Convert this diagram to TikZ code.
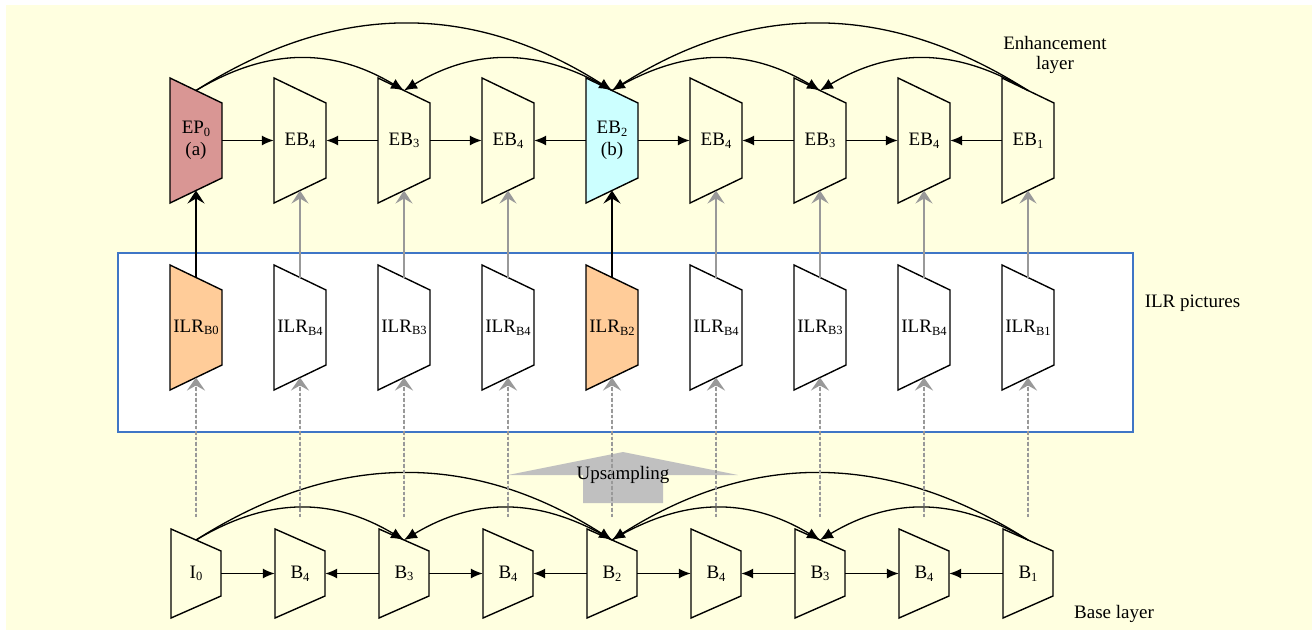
\documentclass[tikz,border=0pt]{standalone}
\usepackage{fontspec}
\setmainfont{Liberation Serif}
\usetikzlibrary{arrows.meta}
\definecolor{bgyel}{HTML}{FFFFE0}
\definecolor{epred}{HTML}{D99694}
\definecolor{ebcyan}{HTML}{CCFFFF}
\definecolor{ilrpeach}{HTML}{FFCC99}
\definecolor{boxblue}{HTML}{3F76C6}
\definecolor{arrgray}{HTML}{999999}
\definecolor{upgray}{HTML}{C0C0C0}
\newcommand\lblfont{\fontsize{19}{22.5}\selectfont}
\newcommand\sbs[1]{\raisebox{-0.14em}{\fontsize{12.5}{12.5}\selectfont #1}}
\newcommand\trap[8]{%
  \path[shp,fill=#7] (#2-#4/2,#3-#5/2) -- (#2+#4/2,#3-#5/2+#6) -- (#2+#4/2,#3+#5/2-#6) -- (#2-#4/2,#3+#5/2) -- cycle;
  \node[lbl,minimum width=#4pt,minimum height=#5pt] (#1) at (#2,#3) {#8};
  \coordinate (#1-t) at (#2,#3-#5/2+#6/2);
  \coordinate (#1-b) at (#2,#3+#5/2-#6/2);
}
\tikzset{
  shp/.style={draw=black, line width=1.4pt, line join=miter},
  lbl/.style={inner sep=0pt, align=center, font=\lblfont, text=black},
  harr/.style={line width=1.3pt, -{Latex[length=12pt,width=10pt]}},
  arcarr/.style={line width=1.3pt, -{Latex[length=13pt,width=11pt]}},
  varr/.style={line width=1.4pt, -{Stealth[length=13pt,width=17pt,inset=5pt]}},
  garr/.style={varr, draw=arrgray, fill=arrgray},
  darr/.style={line width=1.9pt, draw=arrgray, fill=arrgray, dash pattern=on 3.2pt off 2.3pt, -{Stealth[length=13pt,width=18pt,inset=5pt]}},
  ilrbox/.style={draw=boxblue, line width=1.5pt, fill=white},
  upsh/.style={fill=upgray, draw=none},
}
\begin{document}
\begin{tikzpicture}[x=1pt,y=-1pt]
\useasboundingbox (0,0) rectangle (1312,630);
\fill[bgyel] (6,5) rectangle (1312,630);
% ILR box
\path[ilrbox] (118,253) rectangle (1133,432);
% upsampling arrow
\path[upsh] (508,475) -- (623,452) -- (738,475) -- (663,475) -- (663,503) -- (583,503) -- (583,475) -- cycle;
\node[lbl, anchor=base] (ups) at (623,479) {Upsampling};
% enhancement row
\trap{t0}{196}{140.5}{52}{125}{25}{epred}{EP\sbs{0}\\[-1pt](a)}
\trap{t1}{300}{140.5}{52}{125}{25}{none}{EB\sbs{4}}
\trap{t2}{404}{140.5}{52}{125}{25}{none}{EB\sbs{3}}
\trap{t3}{508}{140.5}{52}{125}{25}{none}{EB\sbs{4}}
\trap{t4}{612}{140.5}{52}{125}{25}{ebcyan}{EB\sbs{2}\\[-1pt](b)}
\trap{t5}{716}{140.5}{52}{125}{25}{none}{EB\sbs{4}}
\trap{t6}{820}{140.5}{52}{125}{25}{none}{EB\sbs{3}}
\trap{t7}{924}{140.5}{52}{125}{25}{none}{EB\sbs{4}}
\trap{t8}{1028}{140.5}{52}{125}{25}{none}{EB\sbs{1}}
% ILR row
\trap{m0}{196}{327.5}{52}{125}{25}{ilrpeach}{ILR\sbs{B0}}
\trap{m1}{300}{327.5}{52}{125}{25}{white}{ILR\sbs{B4}}
\trap{m2}{404}{327.5}{52}{125}{25}{white}{ILR\sbs{B3}}
\trap{m3}{508}{327.5}{52}{125}{25}{white}{ILR\sbs{B4}}
\trap{m4}{612}{327.5}{52}{125}{25}{ilrpeach}{ILR\sbs{B2}}
\trap{m5}{716}{327.5}{52}{125}{25}{white}{ILR\sbs{B4}}
\trap{m6}{820}{327.5}{52}{125}{25}{white}{ILR\sbs{B3}}
\trap{m7}{924}{327.5}{52}{125}{25}{white}{ILR\sbs{B4}}
\trap{m8}{1028}{327.5}{52}{125}{25}{white}{ILR\sbs{B1}}
% base row
\trap{b0}{196}{573.5}{50}{89}{22}{none}{I\sbs{0}}
\trap{b1}{300}{573.5}{50}{89}{22}{none}{B\sbs{4}}
\trap{b2}{404}{573.5}{50}{89}{22}{none}{B\sbs{3}}
\trap{b3}{508}{573.5}{50}{89}{22}{none}{B\sbs{4}}
\trap{b4}{612}{573.5}{50}{89}{22}{none}{B\sbs{2}}
\trap{b5}{716}{573.5}{50}{89}{22}{none}{B\sbs{4}}
\trap{b6}{820}{573.5}{50}{89}{22}{none}{B\sbs{3}}
\trap{b7}{924}{573.5}{50}{89}{22}{none}{B\sbs{4}}
\trap{b8}{1028}{573.5}{50}{89}{22}{none}{B\sbs{1}}
% side labels
\node[lbl, anchor=base] (enh) at (1055,49) {Enhancement};
\node[lbl, anchor=base] (enh2) at (1055,69) {layer};
\node[lbl, anchor=base] (ilrp) at (1192.5,307) {ILR pictures};
\node[lbl, anchor=base] (basel) at (1114,618) {Base layer};
% horizontal arrows
\foreach \r in {t,b}{
  \draw[harr] (\r0.east) -- (\r1.west);
  \draw[harr] (\r2.west) -- (\r1.east);
  \draw[harr] (\r2.east) -- (\r3.west);
  \draw[harr] (\r4.west) -- (\r3.east);
  \draw[harr] (\r4.east) -- (\r5.west);
  \draw[harr] (\r6.west) -- (\r5.east);
  \draw[harr] (\r6.east) -- (\r7.west);
  \draw[harr] (\r8.west) -- (\r7.east);
}
% arcs
\foreach \r in {t,b}{
  \draw[arcarr] (\r0-t) .. controls +(72,-43) and +(-72,-43) .. (\r2-t);
  \draw[arcarr] (\r0-t) .. controls +(140,-89) and +(-140,-89) .. (\r4-t);
  \draw[arcarr] (\r4-t) .. controls +(-72,-43) and +(72,-43) .. (\r2-t);
  \draw[arcarr] (\r4-t) .. controls +(72,-43) and +(-72,-43) .. (\r6-t);
  \draw[arcarr] (\r8-t) .. controls +(-72,-43) and +(72,-43) .. (\r6-t);
  \draw[arcarr] (\r8-t) .. controls +(-140,-89) and +(140,-89) .. (\r4-t);
}
% ILR -> enhancement
\draw[varr] (m0-t) -- (t0-b);
\draw[varr] (m4-t) -- (t4-b);
\foreach \i in {1,2,3,5,6,7,8}{
  \draw[garr] (m\i-t) -- (t\i-b);
}
% base -> ILR (dashed)
\foreach \i in {0,...,8}{
  \coordinate (d\i) at (196+104*\i,517);
  \draw[darr] (d\i) -- (m\i-b);
}
\end{tikzpicture}
\end{document}
